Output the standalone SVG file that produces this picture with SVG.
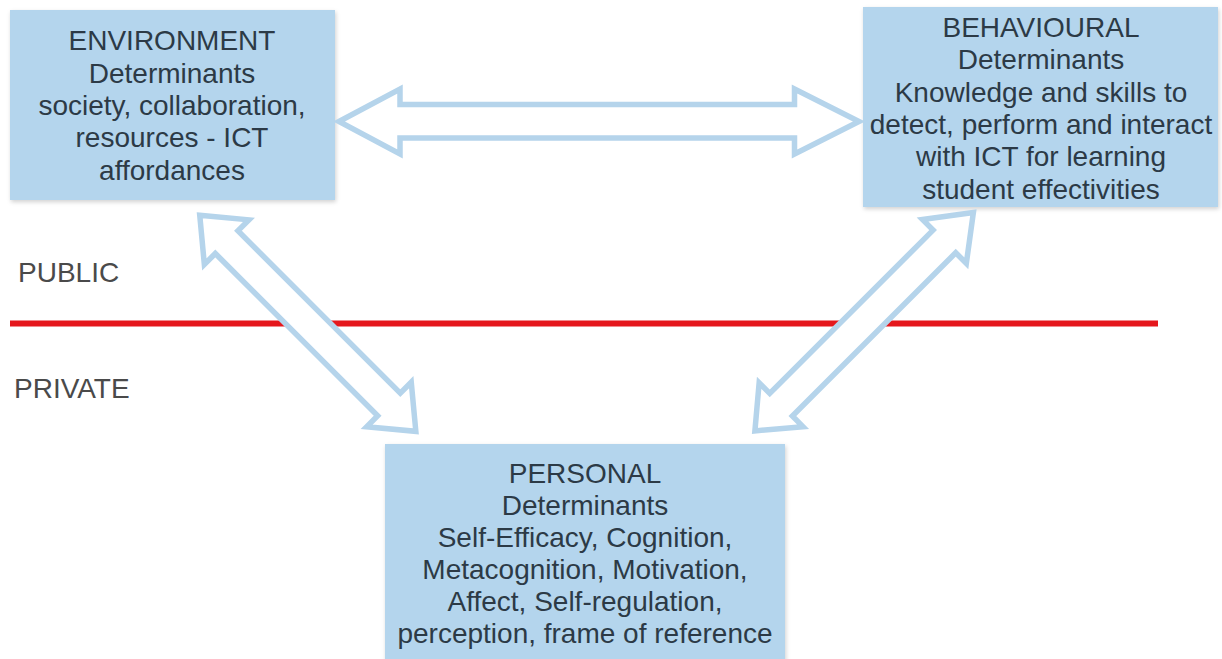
<svg xmlns="http://www.w3.org/2000/svg" width="1222" height="659" viewBox="0 0 1222 659">
  <defs>
    <filter id="soft-shadow" x="-5%" y="-5%" width="112%" height="115%">
      <feDropShadow dx="1" dy="2" stdDeviation="2" flood-color="#000" flood-opacity="0.18"/>
    </filter>
  </defs>
  <style>
    .box { fill: #b4d5ed; filter: url(#soft-shadow); }
    .label { font-family: "Liberation Sans", Arial, sans-serif; font-size: 28px; fill: #2c3a46; text-anchor: middle; }
    .zone { font-family: "Liberation Sans", Arial, sans-serif; font-size: 28px; fill: #4a4a4a; }
    .arrow { fill: #ffffff; stroke: #b5d4eb; stroke-width: 5.5; stroke-linejoin: miter; }
    .divider { stroke: #e5171c; stroke-width: 6; }
  </style>

  <rect width="1222" height="659" fill="#ffffff"/>

  <!-- public / private divide -->
  <g id="divide">
    <line class="divider" x1="10" y1="323.5" x2="1158" y2="323.5"/>
    <text class="zone" x="18" y="282">PUBLIC</text>
    <text class="zone" x="14" y="398" font-size="27">PRIVATE</text>
  </g>

  <g id="environment">
    <rect class="box" x="10" y="10" width="325" height="190"/>
    <text class="label" x="172" y="50">ENVIRONMENT</text>
    <text class="label" x="172" y="83">Determinants</text>
    <text class="label" x="172" y="115">society, collaboration,</text>
    <text class="label" x="172" y="147">resources - ICT</text>
    <text class="label" x="172" y="180">affordances</text>
  </g>

  <g id="behavioural">
    <rect class="box" x="863" y="7" width="355" height="200"/>
    <text class="label" x="1041" y="37">BEHAVIOURAL</text>
    <text class="label" x="1041" y="69">Determinants</text>
    <text class="label" x="1041" y="102">Knowledge and skills to</text>
    <text class="label" x="1041" y="134">detect, perform and interact</text>
    <text class="label" x="1041" y="166">with ICT for learning</text>
    <text class="label" x="1041" y="199">student effectivities</text>
  </g>

  <g id="personal">
    <rect class="box" x="385" y="444" width="400" height="220"/>
    <text class="label" x="585" y="483">PERSONAL</text>
    <text class="label" x="585" y="515">Determinants</text>
    <text class="label" x="585" y="547">Self-Efficacy, Cognition,</text>
    <text class="label" x="585" y="579">Metacognition, Motivation,</text>
    <text class="label" x="585" y="611">Affect, Self-regulation,</text>
    <text class="label" x="585" y="643">perception, frame of reference</text>
  </g>

  <!-- two-headed block arrows between the determinants -->
  <g id="connectors">
    <polygon class="arrow" points="339,121.5 400,89 400,104.5 794.5,104.5 794.5,89 859,121.5 794.5,154 794.5,138 400,138 400,154"/>
    <polygon class="arrow" transform="translate(199.75,215.25) rotate(45)"
             points="0,0 38,-31.5 38,-16 267.6,-16 267.6,-31.5 305.6,0 267.6,31.5 267.6,16 38,16 38,31.5"/>
    <polygon class="arrow" transform="translate(754.9,430.9) rotate(-45)"
             points="0,0 37,-31 37,-16 268,-16 268,-31 309,0 268,31 268,16 37,16 37,31"/>
  </g>
</svg>
